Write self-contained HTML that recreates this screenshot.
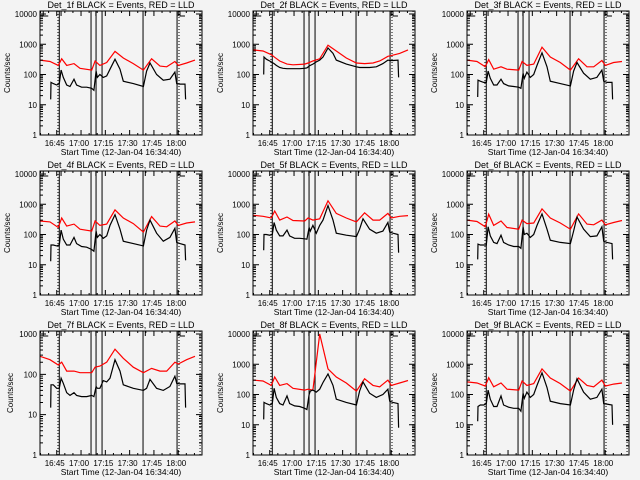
<!DOCTYPE html>
<html><head><meta charset="utf-8"><style>
html,body{margin:0;padding:0;background:#f3f3f3;}
svg{display:block;}
text{font-family:"Liberation Sans",sans-serif;fill:#000;}
</style></head><body>
<svg id="chart" width="640" height="480" viewBox="0 0 640 480" xmlns="http://www.w3.org/2000/svg">
<rect x="0" y="0" width="640" height="480" fill="#f3f3f3"/>
</svg>
<script>
// time in minutes since 16:34:40
const blackTimes = [6.6,6.8,8.2,10.3,11.9,13.0,14.4,16.5,18.5,21.0,22.6,25.7,28.8,31.9,33.3,34.6,35.4,37.0,39.1,41.2,43.2,46.3,49.4,51.4,57.6,63.8,65.8,67.9,72.0,76.1,80.2,83.3,84.4,86.4,89.5,89.9];
const redTimes = [0,6.2,11.3,13.4,16.5,21.0,24.7,31.9,34.0,37.0,41.2,46.3,51.4,57.6,63.8,68.9,74.1,78.2,83.3,85.4,90.5,95.7];
const titles = ["Det_1f BLACK = Events, RED = LLD","Det_2f BLACK = Events, RED = LLD","Det_3f BLACK = Events, RED = LLD","Det_4f BLACK = Events, RED = LLD","Det_5f BLACK = Events, RED = LLD","Det_6f BLACK = Events, RED = LLD","Det_7f BLACK = Events, RED = LLD","Det_8f BLACK = Events, RED = LLD","Det_9f BLACK = Events, RED = LLD"];
const yDecades = [4,4,4,4,4,4,3,4,4];
const yTickLabels = ["1","10","100","1000","10000"];
const xTickLabels = ["16:45","17:00","17:15","17:30","17:45","18:00"];
const xTickTimes = [10.33,25.33,40.33,55.33,70.33,85.33];
const solidMarkers = [11.9,31.5,34.6,38.3,63.6,84.6];
const dottedMarkers = [11.1,85.8,98.8];
const black1 = [15,55,50,45,50,140,80,45,40,70,45,38,38,35,30,130,80,100,80,90,150,320,150,60,50,40,130,240,100,65,70,120,50,48,48,15];
const red1 = [300,270,200,330,200,230,160,140,280,200,250,580,350,230,140,330,190,180,270,200,240,300];
const black2 = [100,380,320,280,250,230,200,170,160,155,155,155,155,160,165,190,200,220,260,300,380,750,500,300,220,180,170,170,170,180,230,300,290,290,300,80];
const red2 = [650,600,450,370,280,220,210,220,240,280,330,930,600,350,240,230,240,280,400,420,500,650];
const black3 = [18,65,60,55,55,130,75,45,45,70,50,42,40,38,35,110,75,120,80,100,200,520,180,60,50,42,130,250,110,70,80,140,60,55,55,15];
const red3 = [300,270,180,310,150,180,150,140,270,200,220,800,380,250,140,330,180,180,290,200,250,270];
const black4 = [13,45,45,42,45,140,70,45,45,80,50,40,38,32,28,130,80,100,75,90,200,450,150,60,50,42,140,300,110,60,80,160,55,50,45,14];
const red4 = [280,260,170,350,190,220,150,130,280,200,220,650,350,230,120,390,190,180,280,200,240,260];
const black5 = [30,100,100,95,100,250,140,90,90,140,90,75,75,72,70,170,130,200,110,200,300,900,300,110,95,85,150,330,150,110,130,250,120,110,100,25];
const red5 = [430,400,350,600,300,380,290,280,350,300,330,1300,500,350,260,520,300,300,500,350,400,420];
const black6 = [15,48,45,45,45,180,90,55,50,95,55,45,40,40,35,180,100,110,80,100,200,480,150,65,55,50,130,380,150,85,90,180,60,55,50,15];
const red6 = [300,270,180,470,200,280,170,150,300,230,240,700,350,240,150,480,220,210,300,210,250,290];
const black7 = [15,55,55,45,45,80,60,35,30,35,30,28,28,30,28,50,45,45,70,65,80,230,120,55,45,40,45,75,45,40,50,90,60,58,58,15];
const red7 = [280,230,170,200,120,120,110,110,150,160,200,420,250,150,110,140,120,120,200,180,230,280];
const black8 = [15,55,50,45,50,160,80,50,45,90,50,42,40,35,32,100,130,140,120,150,250,480,200,70,55,45,130,260,110,80,100,150,60,55,50,8];
const red8 = [300,280,200,380,200,230,160,140,150,140,10000,700,380,240,130,330,200,180,300,200,240,290];
const black9 = [13,40,45,45,50,140,70,40,40,90,45,38,35,35,28,110,75,120,80,100,200,520,170,60,50,45,140,330,120,70,80,150,50,48,45,10];
const red9 = [260,240,190,360,180,240,150,140,280,200,230,700,350,230,130,350,200,180,300,190,220,240];
const blackSeries = [black1,black2,black3,black4,black5,black6,black7,black8,black9];
const redSeries = [red1,red2,red3,red4,red5,red6,red7,red8,red9];

const svg = document.getElementById('chart');
const NS = 'http://www.w3.org/2000/svg';
const colX = [0,213,427], rowY = [0,160,320];
const PX0 = 40, PX1 = 202, PYT = 11, PYB = 135, TMAX = 100, YTOPV = 14;
function mk(tag, attrs, parent){ const e=document.createElementNS(NS,tag); for(const k in attrs) e.setAttribute(k,attrs[k]); parent.appendChild(e); return e; }

for(let p=0;p<9;p++){
  const ox = colX[p%3], oy = rowY[Math.floor(p/3)];
  const dec = yDecades[p];
  const xs = t => PX0 + t*(PX1-PX0)/TMAX;
  const ys = v => PYB - Math.log10(v)*(PYB-YTOPV)/dec;
  const g = mk('g',{transform:`translate(${ox},${oy})`},svg);
  
  
  const clip = mk('clipPath',{id:'clip'+p},g);
  mk('rect',{x:PX0,y:PYT,width:PX1-PX0,height:PYB-PYT},clip);

  // top markers
  const mg = mk('g',{stroke:'#000','stroke-width':'1',fill:'none'},g);
  
  
  mk('path',{d:`M${xs(2)},11 V16 H${xs(2)+5} M${xs(13)},16 V11 M${xs(34.5)},16 V11 M${xs(65)},16 V11 M${xs(86.4)},11 V16 H${xs(86.4)+5}`},mg);

  // title
  const tt = mk('text',{x:121,y:8,'font-size':'9','text-anchor':'middle'},g);
  tt.textContent = titles[p];
  
  

  // vertical marker lines
  solidMarkers.forEach(t=>{
    const l = mk('line',{x1:xs(t),x2:xs(t),y1:PYT,y2:PYB,stroke:'#000','stroke-width':'1'},g);
    
    
  });
  dottedMarkers.forEach(t=>{
    const l = mk('line',{x1:xs(t),x2:xs(t),y1:PYT,y2:PYB,stroke:'#000','stroke-width':'1','stroke-dasharray':'1,2'},g);
    
    
  });

  // series
  const rp = redSeries[p].map((v,i)=>xs(redTimes[i]).toFixed(1)+','+ys(v).toFixed(1)).join(' ');
  const rl = mk('polyline',{points:rp,fill:'none',stroke:'#ff0000','stroke-width':'1.2','clip-path':`url(#clip${p})`},g);
  
  
  const bp = blackSeries[p].map((v,i)=>xs(blackTimes[i]).toFixed(1)+','+ys(v).toFixed(1)).join(' ');
  const bl = mk('polyline',{points:bp,fill:'none',stroke:'#000','stroke-width':'1.2','clip-path':`url(#clip${p})`},g);
  
  

  // frame
  const fr = mk('rect',{x:PX0,y:PYT,width:PX1-PX0,height:PYB-PYT,fill:'none',stroke:'#000','stroke-width':'1'},g);
  
  

  // y ticks
  let td = '';
  for(let d=0; d<=dec; d++){
    const y = ys(Math.pow(10,d));
    td += `M${PX0},${y} h6 M${PX1},${y} h-6 `;
    const lab = mk('text',{x:37,y:y+3,'font-size':'8','text-anchor':'end'},g);
    lab.textContent = yTickLabels[d];
    
    
    if(d<dec){ for(let m=2;m<=9;m++){ const ym = ys(m*Math.pow(10,d)); td += `M${PX0},${ym} h3 M${PX1},${ym} h-3 `; } }
  }
  // x ticks
  xTickTimes.forEach((t,i)=>{
    const x = xs(t);
    td += `M${x},${PYB} v-5 M${x},${PYT} v5 `;
    const lab = mk('text',{x:x-2,y:146,'font-size':'8','text-anchor':'middle'},g);
    lab.textContent = xTickLabels[i];
    
    
  });
  for(let t=0.33;t<TMAX;t+=5){ const x=xs(t); td += `M${x},${PYB} v-2 M${x},${PYT} v2 `; }
  const tk = mk('path',{d:td,stroke:'#000','stroke-width':'1',fill:'none'},g);
  
  

  const xt = mk('text',{x:121,y:155,'font-size':'8.5','text-anchor':'middle'},g);
  xt.textContent = 'Start Time (12-Jan-04 16:34:40)';
  
  
  const yx = dec===3 ? 13 : 10;
  const yt = mk('text',{x:yx,y:73,'font-size':'8','text-anchor':'middle',transform:`rotate(-90 ${yx} 73)`},g);
  yt.textContent = 'Counts/sec';
  
  
}
</script>
</body></html>
